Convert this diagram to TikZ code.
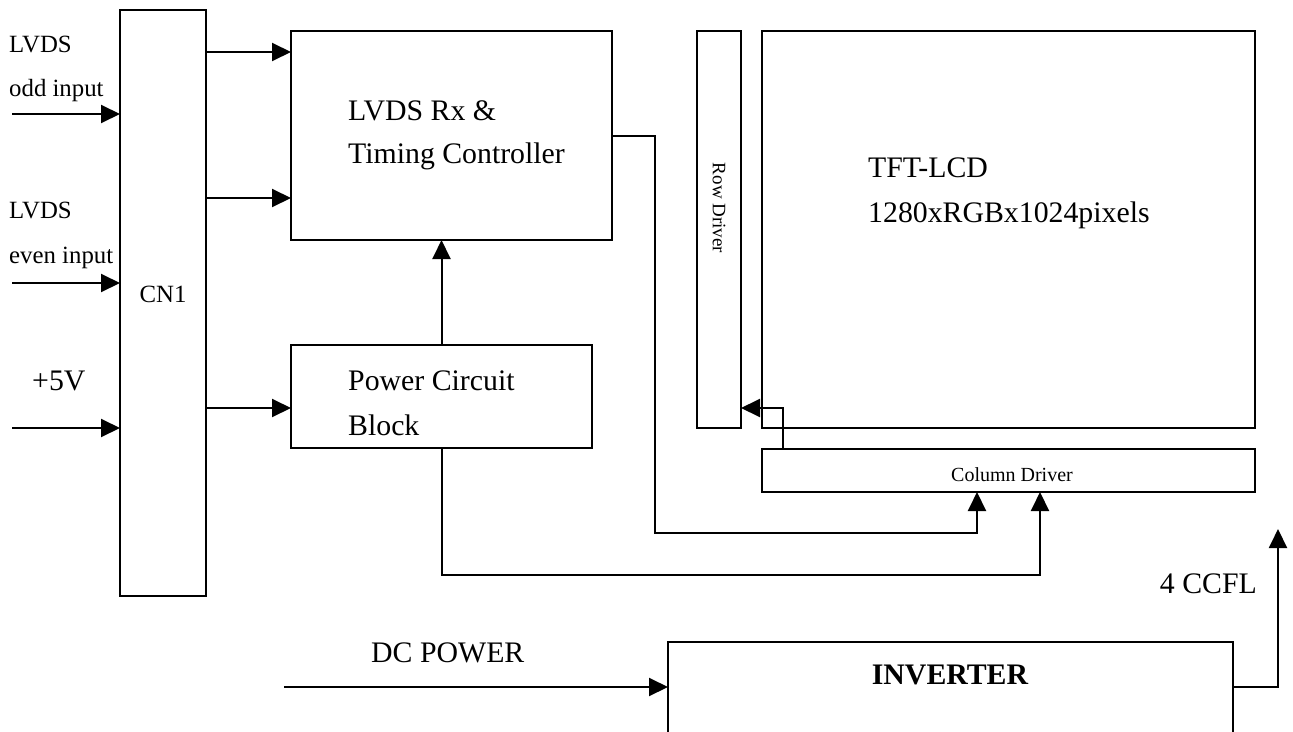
\documentclass[tikz,border=0pt]{standalone}
\usepackage{fontspec}
\setmainfont{Liberation Serif}
\usetikzlibrary{arrows.meta}
\begin{document}
\begin{tikzpicture}[x=1pt,y=-1pt,
  box/.style={draw,line width=2pt,inner sep=0pt,outer sep=0pt,anchor=north west},
  conn/.style={line width=2pt},
  arr/.style={conn,-{Triangle[length=19pt,width=18pt]}},
  big/.style={font=\fontsize{29.8}{34}\selectfont,inner sep=0pt,anchor=base west},
  small/.style={font=\fontsize{24.8}{28}\selectfont,inner sep=0pt,anchor=base west},
  tiny/.style={font=\fontsize{20}{23}\selectfont,inner sep=0pt}]
\clip (0,0) rectangle (1293,731);
\fill[white] (0,0) rectangle (1293,731);
% boxes
\node[box,minimum width=86pt,minimum height=586pt] (cn1) at (120,10) {};
\node[box,minimum width=321pt,minimum height=209pt] (lvds) at (291,31) {};
\node[box,minimum width=301pt,minimum height=103pt] (power) at (291,345) {};
\node[box,minimum width=44pt,minimum height=397pt] (row) at (697,31) {};
\node[box,minimum width=493pt,minimum height=397pt] (tft) at (762,31) {};
\node[box,minimum width=493pt,minimum height=43pt] (col) at (762,449) {};
\node[box,minimum width=565pt,minimum height=120pt] (inv) at (668,642) {};
% texts
\node[small] (t1) at (9,52) {LVDS};
\node[small] (t2) at (9,96) {odd input};
\node[small] (t3) at (9,218) {LVDS};
\node[small] (t4) at (9,263) {even input};
\node[small,anchor=base] (t5) at (163,302) {CN1};
\node[big] (t6) at (32,390) {+5V};
\node[big] (t7) at (348,120) {LVDS Rx \&};
\node[big] (t8) at (348,163) {Timing Controller};
\node[big] (t9) at (348,390) {Power Circuit};
\node[big] (t10) at (348,435) {Block};
\node[big] (t11) at (868,177) {TFT-LCD};
\node[big] (t12) at (868,222) {1280xRGBx1024pixels};
\node[tiny,rotate=-90,font=\fontsize{19}{22}\selectfont] (t13) at (719,208) {Row Driver};
\node[tiny,anchor=base] (t14) at (1012,481) {Column Driver};
\node[big,anchor=base east] (t15) at (1257,593) {4 CCFL};
\node[big] (t16) at (371,662) {DC POWER};
\node[big,anchor=base,font=\fontsize{29.8}{34}\selectfont\bfseries] (t17) at (950,684) {INVERTER};
% free ends
\coordinate (i1) at (12,114);
\coordinate (i2) at (12,283);
\coordinate (i3) at (12,428);
\coordinate (dc) at (284,687);
\coordinate (ccfl) at (1278,529);
% connectors
\draw[arr] (i1) -- (cn1.west |- i1);
\draw[arr] (i2) -- (cn1.west |- i2);
\draw[arr] (i3) -- (cn1.west |- i3);
\draw[arr] (cn1.east |- 0,52) -- (lvds.west |- 0,52);
\draw[arr] (cn1.east |- 0,198) -- (lvds.west |- 0,198);
\draw[arr] (cn1.east |- 0,408) -- (power.west |- 0,408);
\draw[arr] (power.north) -- (power.north |- lvds.south);
\draw[arr] (lvds.east |- 0,136) -- (655,136) -- (655,533) -- (977,533) -- (col.south -| 977,0);
\draw[arr] (power.south) -- (power.south |- 0,575) -- (1040,575) -- (col.south -| 1040,0);
\draw[arr] (col.north -| 783,0) -- (783,408) -- (row.east |- 0,408);
\draw[arr] (dc) -- (inv.west |- dc);
\draw[arr] (inv.east |- 0,687) -- (1278,687) -- (ccfl);
\end{tikzpicture}
\end{document}
